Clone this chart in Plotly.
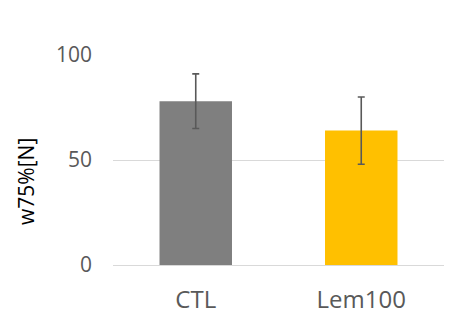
import plotly.graph_objects as go

# Mean force at 75% compression with standard deviation
categories = ["CTL", "Lem100"]
means = [78, 64]
errors = [13, 16]
bar_colors = ["#7F7F7F", "#FFC000"]

y_ticks = [0, 50, 100]
y_title = "w75%[N]"

fig = go.Figure(
    go.Bar(
        x=categories,
        y=means,
        marker=dict(color=bar_colors, line=dict(width=0)),
        error_y=dict(
            type="data",
            array=errors,
            visible=True,
            color="#595959",
            thickness=1.6,
            width=3.5,
        ),
    )
)

fig.update_layout(
    width=450,
    height=335,
    margin=dict(l=113, r=6, t=55, b=70),
    paper_bgcolor="white",
    plot_bgcolor="white",
    bargap=0.562,
    showlegend=False,
    font=dict(family="Open Sans", color="#595959"),
)

fig.update_xaxes(
    showgrid=False,
    showline=False,
    zeroline=False,
    ticks="",
    ticklabelstandoff=18,
    tickfont=dict(size=24, color="#595959"),
)

fig.update_yaxes(
    range=[0, 100],
    tickvals=y_ticks,
    showgrid=True,
    gridcolor="#D9D9D9",
    gridwidth=1,
    zeroline=True,
    zerolinecolor="#D9D9D9",
    zerolinewidth=1,
    showline=False,
    ticks="",
    ticklabelstandoff=20,
    tickfont=dict(size=21, color="#595959"),
)

fig.add_annotation(
    text=y_title,
    xref="paper",
    yref="paper",
    x=-0.263,
    y=0.4,
    textangle=-90,
    showarrow=False,
    xanchor="center",
    yanchor="middle",
    font=dict(size=21, color="#000000", family="Open Sans"),
)

fig.write_html("out.html")
